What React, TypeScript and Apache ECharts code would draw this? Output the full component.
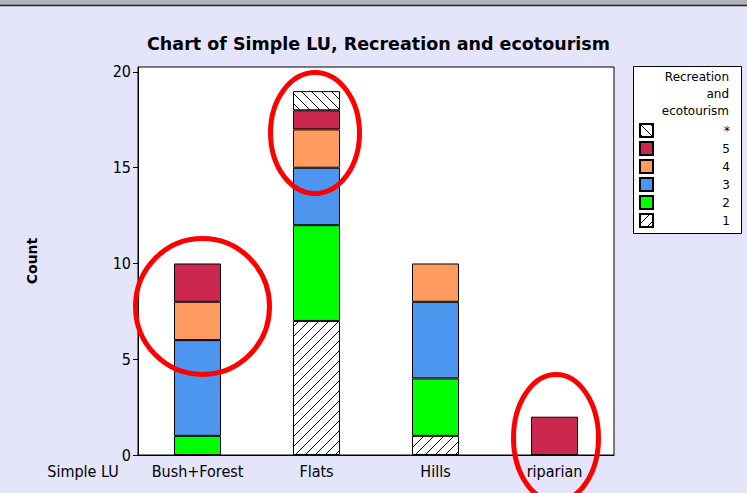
import React, { useEffect, useRef } from "react";
import * as echarts from "echarts";

const categories = ["Bush+Forest", "Flats", "Hills", "riparian"];
const groupNames = ["1", "2", "3", "4", "5", "*"];
const counts1 = [null, 7, 1, null];
const counts2 = [1, 5, 3, null];
const counts3 = [5, 3, 4, null];
const counts4 = [2, 2, 2, null];
const counts5 = [2, 1, null, 2];
const countsStar = [null, 1, null, null];
const yTicks = [0, 5, 10, 15, 20];
const titleText = "Chart of Simple LU, Recreation and ecotourism";
const legendTitle = ["Recreation", "and", "ecotourism"];
const legendOrder = ["*", "5", "4", "3", "2", "1"];
const xAxisTitle = "Simple LU";
const yAxisTitle = "Count";

const FONT = "DejaVu Sans";
const FONT_C = "DejaVu Sans Condensed";

function hatch(forward: boolean) {
  const c = document.createElement("canvas");
  const s = 10;
  c.width = s;
  c.height = s;
  const ctx = c.getContext("2d")!;
  ctx.fillStyle = "#ffffff";
  ctx.fillRect(0, 0, s, s);
  ctx.strokeStyle = "#000000";
  ctx.lineWidth = 1;
  ctx.beginPath();
  for (const o of [-s, 0, s]) {
    if (forward) {
      ctx.moveTo(o, s);
      ctx.lineTo(o + s, 0);
    } else {
      ctx.moveTo(o, 0);
      ctx.lineTo(o + s, s);
    }
  }
  ctx.stroke();
  return c;
}

export default function App() {
  const ref = useRef<HTMLDivElement>(null);
  useEffect(() => {
    document.body.style.margin = "0";
    if (!ref.current) return;
    const chart = echarts.init(ref.current, undefined, { renderer: "svg" });
    const fills: any[] = [
      { image: hatch(true), repeat: "repeat" },
      "#00FF00",
      "#4C96F0",
      "#FF9A60",
      "#CC284F",
      { image: hatch(false), repeat: "repeat" },
    ];
    const dataSets = [counts1, counts2, counts3, counts4, counts5, countsStar];
    const series = groupNames.map((name, i) => ({
      name,
      type: "bar",
      stack: "total",
      barWidth: 47,
      data: dataSets[i],
      itemStyle: { color: fills[i], borderColor: "#000", borderWidth: 1 },
      emphasis: { disabled: true },
    }));
    const ellipse = (cx: number, cy: number, rx: number, ry: number) => ({
      type: "ellipse",
      shape: { cx, cy, rx, ry },
      style: { fill: "none", stroke: "#FF0000", lineWidth: 5 },
      z: 100,
    });
    chart.setOption({
      animation: false,
      backgroundColor: "#E4E4FA",
      title: {
        text: titleText,
        left: 373.5,
        top: 30,
        textAlign: "center",
        textStyle: { fontFamily: FONT, fontSize: 17.5, fontWeight: "bold", color: "#000" },
      },
      grid: {
        left: 138,
        right: 133,
        top: 67,
        bottom: 38,
        show: true,
        backgroundColor: "#FFFFFF",
        borderColor: "#000",
        borderWidth: 1,
      },
      xAxis: {
        type: "category",
        data: categories,
        axisLine: { lineStyle: { color: "#000" } },
        axisTick: { alignWithLabel: true, length: 4, lineStyle: { color: "#000" } },
        axisLabel: { interval: 0, fontFamily: FONT_C, fontSize: 16, color: "#000", margin: 8 },
      },
      yAxis: {
        type: "value",
        min: 0,
        max: 20.26,
        name: yAxisTitle,
        nameLocation: "middle",
        nameRotate: 90,
        nameGap: 99,
        nameTextStyle: { fontFamily: FONT, fontSize: 14, fontWeight: "bold", color: "#000" },
        splitLine: { show: false },
        axisLine: { show: true, lineStyle: { color: "#000" } },
        axisTick: { show: true, length: 5, customValues: yTicks, lineStyle: { color: "#000" } },
        axisLabel: { fontFamily: FONT_C, fontSize: 16, color: "#000", margin: 7, customValues: yTicks },
      },
      legend: {
        orient: "vertical",
        left: 639,
        top: 123,
        padding: 0,
        itemWidth: 13,
        itemHeight: 13,
        itemGap: 3,
        icon: "rect",
        data: legendOrder,
        selectedMode: false,
        formatter: (n: string) => `{v|${n}}`,
        textStyle: {
          lineHeight: 13,
          rich: {
            v: { width: 72, height: 13, lineHeight: 13, align: "right", fontFamily: FONT, fontSize: 12, color: "#000" },
          },
        },
      },
      graphic: [
        { type: "rect", shape: { x: 0, y: 0, width: 747, height: 5 }, style: { fill: "#B2B2BA" }, z: 0 },
        { type: "line", shape: { x1: 0, y1: 5.5, x2: 747, y2: 5.5 }, style: { stroke: "#222", lineWidth: 1.5 }, z: 1 },
        {
          type: "rect",
          shape: { x: 633.5, y: 66.5, width: 108, height: 167 },
          style: { fill: "#FFFFFF", stroke: "#000", lineWidth: 1 },
          z: -1,
        },
        ...legendTitle.map((t, i) => ({
          type: "text",
          x: 729,
          y: 77 + i * 17,
          style: {
            text: t,
            align: "right",
            verticalAlign: "middle",
            font: `12px "${FONT}"`,
            fill: "#000",
          },
          z: 5,
        })),
        {
          type: "text",
          x: 83,
          y: 471,
          style: {
            text: xAxisTitle,
            align: "center",
            verticalAlign: "middle",
            font: `16px "${FONT_C}"`,
            fill: "#000",
          },
        },
        ellipse(202.5, 306.5, 67, 68),
        ellipse(315, 133, 44.5, 60.5),
        ellipse(556, 438, 42.5, 63.5),
      ],
      series,
    });
    return () => chart.dispose();
  }, []);
  return <div ref={ref} style={{ width: 747, height: 493 }} />;
}
